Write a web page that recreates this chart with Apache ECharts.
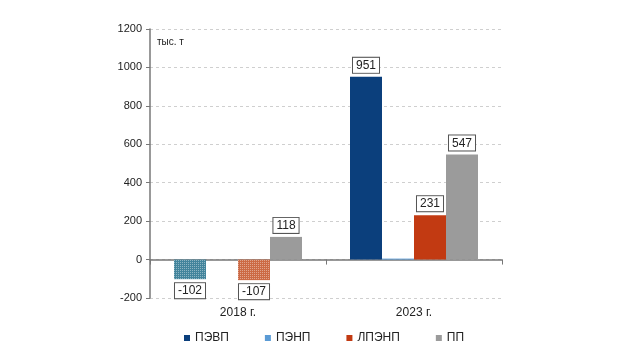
<!DOCTYPE html>
<html><head><meta charset="utf-8">
<script src="https://cdn.jsdelivr.net/npm/echarts@6/dist/echarts.min.js"></script>
<style>html,body{margin:0;padding:0;background:#fff}#c{width:620px;height:348px}</style>
</head><body><div id="c"></div>
<script>
const categories = ['2018 г.', '2023 г.'];
const seriesNames = ['ПЭВП', 'ПЭНП', 'ЛПЭНП', 'ПП'];
const valsPEVP = [-102, 951];
const valsPENP = [0, 5];
const valsLPENP = [-107, 231];
const valsPP = [118, 547];
const yTicks = [-200, 0, 200, 400, 600, 800, 1000, 1200];
const unitLabel = 'тыс. т';

const colors = ['#0b3f7c', '#5b9bd5', '#c23a12', '#9b9b9b'];
const negColors = ['#42849c', '#5b9bd5', '#cc6a45', '#9b9b9b'];
const FONT = 'Liberation Sans, Arial, sans-serif';

function mkData(vals, idx) {
  return vals.map(v => {
    if (v < 0) {
      return {
        value: v,
        itemStyle: {
          color: negColors[idx],
          decal: { symbol: 'rect', symbolSize: 1, color: 'rgba(255,255,255,0.4)', dashArrayX: [1, 1], dashArrayY: [1, 1], rotation: 0 }
        },
        label: { position: 'bottom' }
      };
    }
    return { value: v };
  });
}

const lists = [valsPEVP, valsPENP, valsLPENP, valsPP];
const series = lists.map((vals, i) => ({
  name: seriesNames[i],
  type: 'bar',
  barGap: '0%',
  barWidth: 32,
  xAxisIndex: 0,
  data: mkData(vals, i),
  itemStyle: { color: colors[i] },
  label: {
    show: i !== 1,
    position: 'top',
    distance: 4,
    formatter: p => (p.value === 0 ? '' : String(p.value)),
    color: '#222',
    fontFamily: FONT,
    fontSize: 12,
    backgroundColor: '#fff',
    borderColor: '#555',
    borderWidth: 1,
    padding: [2, 3, 1, 3]
  }
}));

const chart = echarts.init(document.getElementById('c'), null, { renderer: 'canvas' });
chart.setOption({
  animation: false,
  backgroundColor: '#fff',
  grid: { left: 150, right: 118, top: 29, bottom: 50, containLabel: false, outerBoundsMode: 'none' },
  legend: {
    data: seriesNames,
    left: 179, top: 327,
    itemWidth: 6, itemHeight: 6, itemGap: 36,
    icon: 'rect',
    textStyle: { fontFamily: FONT, fontSize: 12, color: '#222' }
  },
  xAxis: [{
    type: 'category',
    data: categories,
    axisLine: { onZero: true, lineStyle: { color: '#777', width: 1.5 } },
    axisTick: { show: true, inside: false, length: 5, lineStyle: { color: '#777' } },
    axisLabel: { show: false },
    splitLine: { show: false }
  }, {
    type: 'category',
    data: categories,
    position: 'bottom',
    axisLine: { show: false, onZero: false },
    axisTick: { show: false },
    axisLabel: { margin: 9, fontFamily: FONT, fontSize: 12, color: '#222' },
    splitLine: { show: false }
  }],
  yAxis: {
    type: 'value',
    min: yTicks[0], max: yTicks[yTicks.length - 1], interval: 200,
    axisLine: { show: true, lineStyle: { color: '#777', width: 1.5 } },
    axisTick: { show: true, length: 4, lineStyle: { color: '#777' } },
    axisLabel: { fontFamily: FONT, fontSize: 11, color: '#222', margin: 8, formatter: v => String(v) },
    splitLine: { show: true, lineStyle: { color: '#cfcfcf', type: [3, 3], width: 1 } }
  },
  graphic: [{
    type: 'text', left: 157, top: 37,
    style: { text: unitLabel, fontFamily: FONT, fontSize: 10, fill: '#222' }
  }],
  series: series
});
</script></body></html>
